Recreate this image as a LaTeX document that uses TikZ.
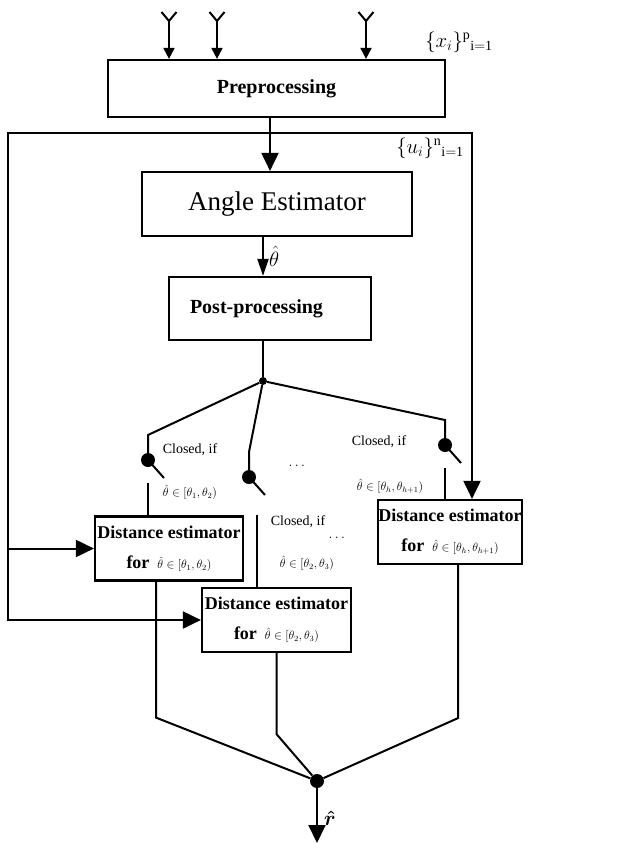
\documentclass[tikz,border=0pt]{standalone}
\usepackage{amsmath}
\usepackage{fontspec}
\setmainfont{Liberation Serif}
\usetikzlibrary{arrows.meta}

\begin{document}
\begin{tikzpicture}[x=1pt,y=-1pt,
  wire/.style={line width=2pt},
  flow/.style={wire,-{Triangle[length=18pt,width=17pt]}},
  thin flow/.style={wire,-{Triangle[length=#1,width=11pt]}},
  thin flow/.default=11pt,
  block/.style={draw,line width=2.2pt,inner sep=0pt,align=center},
  knot/.style={circle,fill,inner sep=0pt,minimum size=#1},
  knot/.default=14pt,
  lbl/.style={inner sep=1pt,font=\fontsize{14}{16}\selectfont},
  cond/.style={inner sep=1pt,font=\fontsize{12}{14}\selectfont},
  sym/.style={inner sep=0pt,font=\fontsize{22}{24}\selectfont}]

  \useasboundingbox (0,0) rectangle (622,844);

  % processing chain
  \node[block,minimum width=337pt,minimum height=57pt,font=\fontsize{20}{24}\selectfont\bfseries] (pre) at (276.5,88.5) {Preprocessing};
  \node[block,minimum width=270pt,minimum height=64pt,font=\fontsize{27}{30}\selectfont] (ang) at (277,204) {Angle Estimator};
  \node[block,minimum height=63pt,text width=160pt,inner xsep=21pt,align=left,font=\fontsize{20}{24}\selectfont\bfseries] (post) at (270,308.5) {Post-processing};

  % one distance estimator per angle interval
  \foreach \n/\cx/\cy/\w/\a/\b in {1/169/548.5/148/1/2, 2/276.5/620/149/2/3, h/450/532/144/h/{h+1}}
    \node[block,minimum width=\w pt,minimum height=64pt,font=\fontsize{18}{30}\selectfont\bfseries] (de\n) at (\cx,\cy)
      {Distance estimator\\for\hspace{8pt}{\mdseries\fontsize{12}{14}\selectfont$\hat\theta\in[\theta_{\a},\theta_{\b})$}};

  % antennas
  \foreach \i/\ax in {1/169,2/217,3/366} {
    \coordinate (ant\i) at (\ax,21);
    \draw[wire] (ant\i) -- ++(-7.5,-9) (ant\i) -- ++(7.5,-9);
    \draw[thin flow] (ant\i) -- (ant\i |- pre.north);
  }
  \node[inner sep=0pt,font=\fontsize{20}{22}\selectfont] (xin) at (459,42) {$\{x_i\}^{\mathrm{p}}{}_{\mathrm{i=1}}$};

  % feed and loop around
  \coordinate (tap) at (270,133);
  \coordinate (lft) at (8,133);
  \coordinate (rgt) at (472,133);
  \draw[flow] (pre.south -| tap) -- (ang.north -| tap);
  \draw[flow] (tap) -- (lft) -- (lft |- de2.west) -- (de2.west);
  \draw[flow] (lft |- de1.west) -- (de1.west);
  \draw[flow] (tap) -- (rgt) -- (rgt |- deh.north);
  \node[inner sep=0pt,font=\fontsize{20}{22}\selectfont] (uin) at (430,148) {$\{u_i\}^{\mathrm{n}}{}_{\mathrm{i=1}}$};

  % angle estimate and switches
  \node[knot=8pt] (split) at (263,381) {};
  \draw[thin flow=17pt] (ang.south -| split) -- (post.north -| split)
    node[midway,right=5pt,sym] (th) {$\hat\theta$};
  \draw[wire] (post.south -| split) -- (split);

  \node[knot] (sw1) at (148,460) {};
  \node[knot] (sw2) at (249,477) {};
  \node[knot] (swh) at (445,445) {};
  \draw[wire] (split) -- (148,435) -- (sw1);
  \draw[wire] (split) -- (249,452) -- (sw2);
  \draw[wire] (split) -- (445,420) -- (swh);
  \foreach \s in {sw1,sw2,swh}
    \draw[wire] (\s.center) -- ++(16,18);

  \coordinate (c1) at (148,483);
  \coordinate (c2) at (257,515);
  \coordinate (ch) at (445,468);
  \draw[wire] (c1) -- (c1 |- de1.north);
  \draw[wire] (c2) -- (c2 |- de2.north);
  \draw[wire] (ch) -- (ch |- deh.north);

  \node[lbl] (cl1) at (190,450) {Closed, if};
  \node[cond] (cd1) at (190,492) {$\hat\theta\in[\theta_1,\theta_2)$};
  \node[lbl] (cl2) at (298,522) {Closed, if};
  \node[cond] (cd2) at (307,563) {$\hat\theta\in[\theta_2,\theta_3)$};
  \node[lbl] (clh) at (379,442) {Closed, if};
  \node[cond] (cdh) at (390,486) {$\hat\theta\in[\theta_h,\theta_{h+1})$};
  \node[lbl] (gap1) at (298,466) {$\dots$};
  \node[lbl] (gap2) at (338,538) {$\dots$};

  % combining the distance estimates
  \node[knot] (merge) at (317,781) {};
  \coordinate (out) at (317,843);
  \draw[wire] ([xshift=-13pt]de1.south) -- ++(0,136) -- (merge);
  \draw[wire] (de2.south) -- ++(0,81) -- (merge);
  \draw[wire] ([xshift=8pt]deh.south) -- ++(0,153) -- (merge);
  \draw[flow] (merge) -- (out)
    node[pos=.55,right=6pt,sym] (rr) {$\boldsymbol{\hat r}$};
\end{tikzpicture}
\end{document}
